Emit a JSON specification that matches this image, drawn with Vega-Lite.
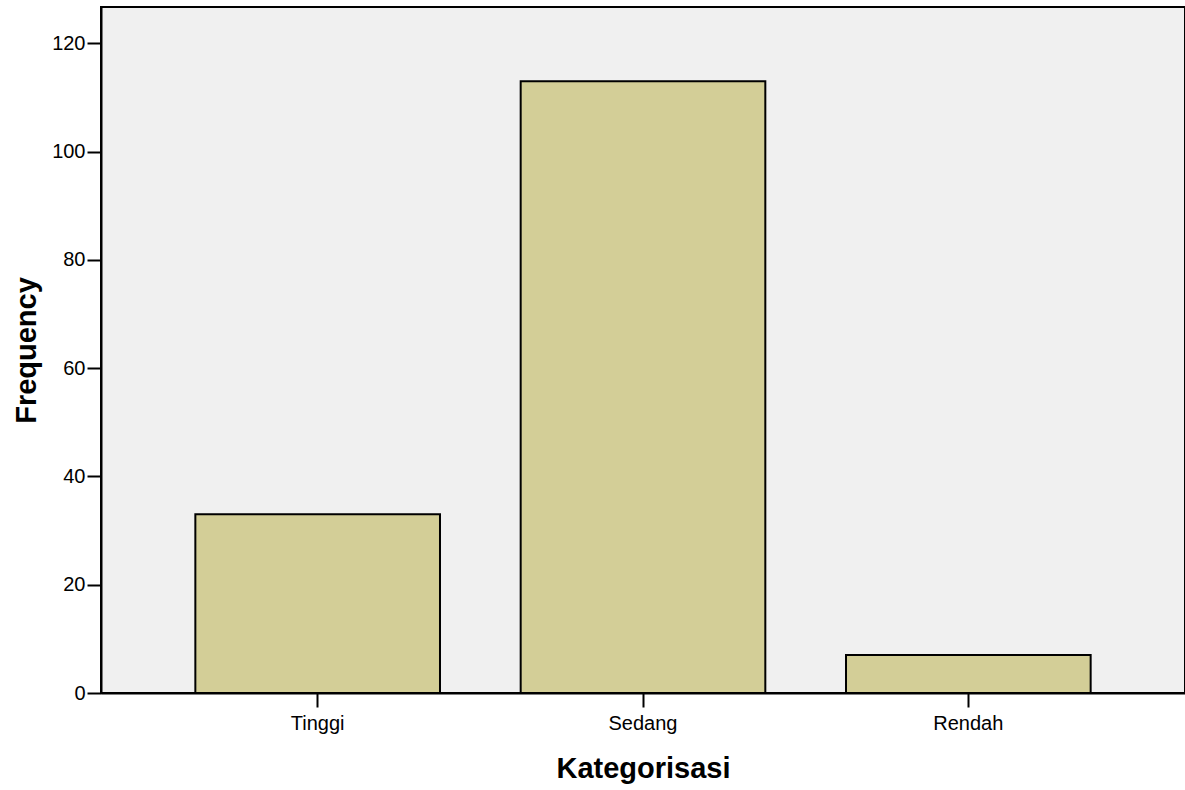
{
  "$schema": "https://vega.github.io/schema/vega-lite/v6.json",
  "autosize": {"type": "none"},
  "padding": {"left": 101, "top": 7, "right": 0, "bottom": 97},
  "width": 1084,
  "height": 686,
  "background": "#ffffff",
  "config": {
    "view": {"fill": "#F0F0F0", "stroke": "#000000", "strokeWidth": 2},
    "font": "Liberation Sans"
  },
  "data": {
    "values": [
      {"Kategorisasi": "Tinggi", "Frequency": 33},
      {"Kategorisasi": "Sedang", "Frequency": 113},
      {"Kategorisasi": "Rendah", "Frequency": 7}
    ]
  },
  "mark": {"type": "bar", "fill": "#D3CE97", "stroke": "#000000", "strokeWidth": 2},
  "encoding": {
    "x": {
      "field": "Kategorisasi",
      "type": "nominal",
      "sort": ["Tinggi", "Sedang", "Rendah"],
      "scale": {"paddingInner": 0.248, "paddingOuter": 0.29},
      "axis": {
        "labelAngle": 0,
        "labelFont": "Liberation Sans",
        "labelFontSize": 20,
        "labelColor": "#000000",
        "labelPadding": 6,
        "tickSize": 14,
        "tickWidth": 2,
        "tickColor": "#000000",
        "domainColor": "#000000",
        "domainWidth": 2,
        "title": "Kategorisasi",
        "titleFont": "Liberation Sans",
        "titleFontSize": 29,
        "titleFontWeight": "bold",
        "titleColor": "#000000",
        "titlePadding": 21
      }
    },
    "y": {
      "field": "Frequency",
      "type": "quantitative",
      "scale": {"domain": [0, 126.7], "nice": false},
      "axis": {
        "values": [0, 20, 40, 60, 80, 100, 120],
        "labelFont": "Liberation Sans",
        "labelFontSize": 20,
        "labelColor": "#000000",
        "labelPadding": 2,
        "tickSize": 14,
        "tickWidth": 2,
        "tickColor": "#000000",
        "domainColor": "#000000",
        "domainWidth": 2,
        "grid": false,
        "title": "Frequency",
        "titleFont": "Liberation Sans",
        "titleFontSize": 29,
        "titleFontWeight": "bold",
        "titleColor": "#000000",
        "titlePadding": 10
      }
    }
  }
}
